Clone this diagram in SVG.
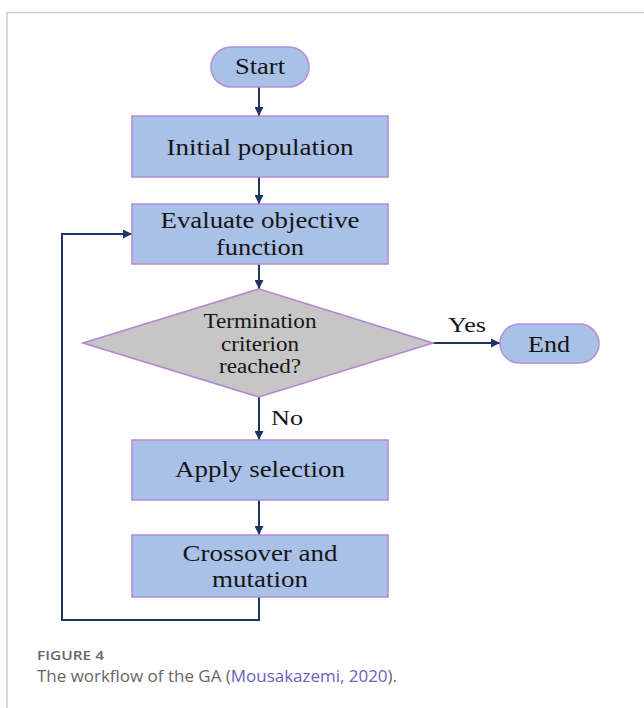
<svg xmlns="http://www.w3.org/2000/svg" width="644" height="708" viewBox="0 0 644 708">
<style>
.box{fill:#aac1e7;stroke:#b48fd6;stroke-width:1.6}
.dia{fill:#c6c6c6;stroke:#b186d2;stroke-width:1.6}
.t{font-family:"Liberation Serif","Times New Roman",serif;fill:#151515;text-anchor:middle}
.t24{font-size:24px}
.t20{font-size:20px}
.con{fill:none;stroke:#1d3562;stroke-width:2}
.frame{stroke:#cccccc;stroke-width:1.5;fill:none}
.cap{font-family:"Open Sans","Noto Sans",sans-serif}
</style>
<defs>
<marker id="ah" viewBox="0 0 10 10" refX="10" refY="5" markerWidth="4.5" markerHeight="4.5" orient="auto" markerUnits="strokeWidth">
<path d="M0,0 L10,5 L0,10 z" fill="#1d3562"/>
</marker>
</defs>
<rect width="644" height="708" fill="#ffffff"/>
<path class="frame" d="M7,708 V12.5 H644"/>

<g id="connectors">
<line class="con" x1="259" y1="87" x2="259" y2="116" marker-end="url(#ah)"/>
<line class="con" x1="259" y1="177" x2="259" y2="204" marker-end="url(#ah)"/>
<line class="con" x1="259" y1="264" x2="259" y2="289" marker-end="url(#ah)"/>
<line class="con" x1="433" y1="343" x2="500" y2="343" marker-end="url(#ah)"/>
<line class="con" x1="259" y1="397" x2="259" y2="440" marker-end="url(#ah)"/>
<line class="con" x1="259" y1="500" x2="259" y2="535" marker-end="url(#ah)"/>
<path class="con" d="M259,597 V620 H62 V234 H132" marker-end="url(#ah)"/>
<text class="t t20" x="467" y="332" textLength="38" lengthAdjust="spacingAndGlyphs">Yes</text>
<text class="t t20" x="287" y="425" textLength="32" lengthAdjust="spacingAndGlyphs">No</text>
</g>

<g id="start">
<rect class="box" x="211" y="47" width="98" height="40" rx="20"/>
<text class="t t24" x="260" y="74" textLength="50" lengthAdjust="spacingAndGlyphs">Start</text>
</g>

<g id="initial">
<rect class="box" x="132" y="116" width="256" height="61"/>
<text class="t t24" x="260" y="155" textLength="187" lengthAdjust="spacingAndGlyphs">Initial population</text>
</g>

<g id="evaluate">
<rect class="box" x="132" y="204" width="256" height="60"/>
<text class="t t24" x="260" y="228" textLength="199" lengthAdjust="spacingAndGlyphs">Evaluate objective</text>
<text class="t t24" x="260" y="255" textLength="88" lengthAdjust="spacingAndGlyphs">function</text>
</g>

<g id="decision">
<polygon class="dia" points="259,289 433,343 259,397 83,343"/>
<text class="t t20" x="260" y="328" textLength="113" lengthAdjust="spacingAndGlyphs">Termination</text>
<text class="t t20" x="260" y="351" textLength="78" lengthAdjust="spacingAndGlyphs">criterion</text>
<text class="t t20" x="260" y="373" textLength="82" lengthAdjust="spacingAndGlyphs">reached?</text>
</g>

<g id="end">
<rect class="box" x="500" y="324" width="99" height="39" rx="19.5"/>
<text class="t t24" x="549" y="352" textLength="42" lengthAdjust="spacingAndGlyphs">End</text>
</g>

<g id="selection">
<rect class="box" x="132" y="440" width="256" height="60"/>
<text class="t t24" x="260" y="477" textLength="170" lengthAdjust="spacingAndGlyphs">Apply selection</text>
</g>

<g id="crossover">
<rect class="box" x="132" y="535" width="256" height="62"/>
<text class="t t24" x="260" y="561" textLength="155" lengthAdjust="spacingAndGlyphs">Crossover and</text>
<text class="t t24" x="260" y="587" textLength="96" lengthAdjust="spacingAndGlyphs">mutation</text>
</g>

<g id="caption">
<text class="cap" x="37" y="660" font-size="12.5" font-weight="600" fill="#666666" textLength="67" lengthAdjust="spacingAndGlyphs">FIGURE 4</text>
<text class="cap" x="37" y="682" font-size="16" fill="#666666" textLength="360" lengthAdjust="spacingAndGlyphs">The workflow of the GA (<tspan fill="#6a5fc1">Mousakazemi, 2020</tspan>).</text>
</g>
</svg>
